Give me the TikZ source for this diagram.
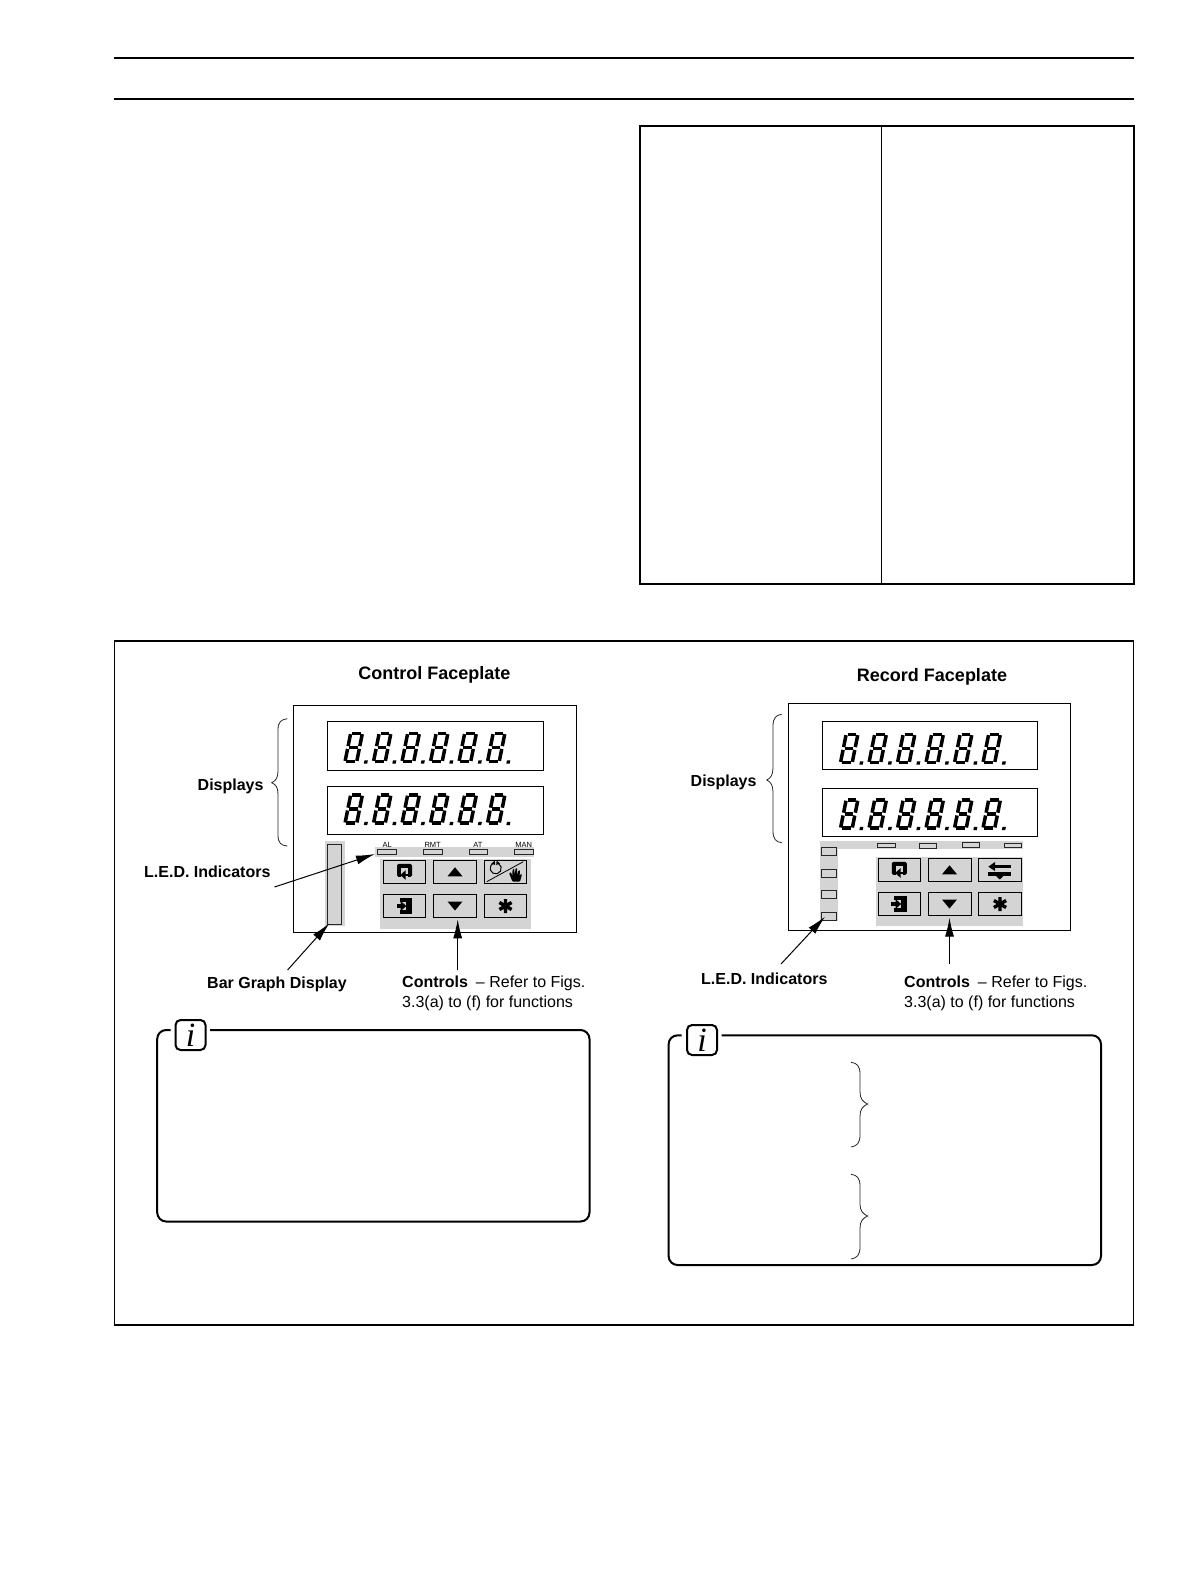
\documentclass[tikz,border=0pt]{standalone}
\usepackage{fontspec}
\setmainfont{Liberation Sans}
\newfontfamily\ifont{Liberation Serif}
\usetikzlibrary{arrows.meta}
\definecolor{panel}{gray}{0.83}
\tikzset{
  heavy/.style={draw=black,line width=1.7pt},
  frame/.style={draw=black,line width=1.5pt},
  thinbox/.style={draw=black,line width=1pt},
  greyarea/.style={fill=panel,draw=none},
  ledbox/.style={draw=black!85,fill=panel,line width=.9pt},
  keybox/.style={draw=black,fill=panel,line width=1pt},
  callout/.style={draw=black,line width=1pt,-{Latex[length=19pt,width=9pt]}},
  brace/.style={draw=black!85,line width=.8pt},
  boldlabel/.style={font=\fontsize{16}{19}\selectfont\bfseries,inner sep=0pt,anchor=west},
  titlelabel/.style={font=\fontsize{18}{21}\selectfont\bfseries,inner sep=0pt},
  textlabel/.style={font=\fontsize{16}{19}\selectfont,inner sep=0pt,anchor=west},
  tinylabel/.style={font=\fontsize{7.5}{8}\selectfont,inner sep=0pt},
  seg/.style={draw=black,line width=3.5pt,line cap=butt},
  infobox/.style={draw=black,line width=2pt,rounded corners=9pt},
  infoi/.style={draw=black,line width=2pt,rounded corners=5pt,minimum width=30pt,minimum height=30pt,inner sep=0pt,font=\ifont\itshape\fontsize{34}{34}\selectfont},
}
\newcommand{\sevenseg}[2]{%
  \begin{scope}[shift={(#1,#2)},xslant=0.2]
    \draw[seg] (3.2,1.8)--(12,1.8);
    \draw[seg] (3.4,15.8)--(11.8,15.8);
    \draw[seg] (3.2,29.8)--(12,29.8);
    \draw[seg] (1.8,2.4)--(1.8,14.4);
    \draw[seg] (1.8,17.2)--(1.8,29.2);
    \draw[seg] (13.5,2.4)--(13.5,14.4);
    \draw[seg] (13.5,17.2)--(13.5,29.2);
    \fill[black] (21,28.6) rectangle (24.4,31.8);
  \end{scope}}
\newcommand{\digitrow}[2]{\foreach \k in {0,...,5}{\sevenseg{#1+28.5*\k}{#2}}}
\newcommand{\iconpage}[2]{%
  \begin{scope}[shift={(#1,#2)}]
    \fill[black,rounded corners=1.5pt] (-7.5,-8) rectangle (7.5,5);
    \fill[panel] (-3.2,-3.5) rectangle (3.2,5.5);
    \fill[black] (-1,1.8) rectangle (4.5,4.6);
    \fill[black] (1.2,-1.6)--(1.2,8)--(-4.2,3.2)--cycle;
  \end{scope}}
\newcommand{\iconexit}[2]{%
  \begin{scope}[shift={(#1,#2)}]
    \fill[black] (-5,-7.7) rectangle (7.7,7.7);
    \fill[panel] (-5.5,-4) rectangle (1.8,4);
    \fill[black] (-8,-1.6) rectangle (-3,1.6);
    \fill[black] (-3.8,-5) -- (1.8,0) -- (-3.8,5) -- cycle;
  \end{scope}}
\newcommand{\iconup}[2]{\fill[black] (#1-7.5,#2+4.5) -- (#1+7.5,#2+4.5) -- (#1,#2-4.5) -- cycle;}
\newcommand{\icondown}[2]{\fill[black] (#1-7.5,#2-4.5) -- (#1+7.5,#2-4.5) -- (#1,#2+4.5) -- cycle;}
\newcommand{\iconstar}[2]{%
  \begin{scope}[shift={(#1,#2)}]
    \draw[black,line width=3.4pt] (0,-7)--(0,7) (-6.1,-3.5)--(6.1,3.5) (-6.1,3.5)--(6.1,-3.5);
  \end{scope}}
\begin{document}
\begin{tikzpicture}[x=1pt,y=-1pt]
\useasboundingbox (0,0) rectangle (1190,1588);
\fill[white] (0,0) rectangle (1190,1588);

% page rules
\draw[heavy] (114,57.7)--(1134,57.7);
\draw[heavy] (114,99)--(1134,99);

% table
\draw[heavy] (640,126) rectangle (1134,584);
\draw[black,line width=1pt] (881,126)--(881,584);

% outer frame
\draw[heavy] (114.4,641) rectangle (1133.5,1325);

% titles
\node[titlelabel] (t1) at (434.5,675.3) {Control Faceplate};
\node[titlelabel] (t2) at (932,677.3) {Record Faceplate};

% ---------- control faceplate
\draw[frame] (293.3,705.3) rectangle (576.3,932.3);
\draw[thinbox] (327.3,721.3) rectangle (543.7,770.3);
\draw[thinbox] (327.3,786.3) rectangle (543.7,834.3);
\digitrow{349.2}{731.7}
\digitrow{349.2}{793.3}

\fill[greyarea] (325,840.5) rectangle (345,925.7);
\draw[ledbox] (327.3,844.3) rectangle (341.7,924);

\fill[greyarea] (375.3,846.7) rectangle (534,856.7);
\foreach \a/\b in {377.7/396.7,423.3/442.7,469.3/487.7,514.3/533.7}
  \draw[ledbox] (\a,849.3) rectangle (\b,854.7);
\node[tinylabel] (l1) at (387.3,845) {AL};
\node[tinylabel] (l2) at (432.7,845) {RMT};
\node[tinylabel] (l3) at (478,845) {AT};
\node[tinylabel] (l4) at (523.7,845) {MAN};

\fill[greyarea] (380,859) rectangle (530.7,928.7);
\foreach \a/\b in {383.3/425.7,433.3/476.7,484.3/526.7}
  \foreach \c/\d in {860.3/883.3,894.3/917.7}
    \draw[keybox] (\a,\c) rectangle (\b,\d);
\iconpage{404.5}{871.8}
\iconup{455}{871.8}
\iconexit{404.5}{906}
\icondown{455}{906}
\iconstar{505.5}{906}
% auto / manual key
\draw[black,line width=.8pt] (486.7,881.7)--(523.3,861.7);
\draw[black,line width=1pt] (498.5,863.45) arc[start angle=-60,end angle=240,radius=5.6];
\fill[black] (491.3,863.6)--(494.8,860.6)--(495.2,865)--cycle;
\fill[black] (500.1,863.6)--(496.6,860.6)--(496.2,865)--cycle;
\fill[black,rounded corners=1pt] (509,873)--(511,872)--(512.3,876)--(512.6,869)--(514.2,868.6)--(514.8,875)--(515.6,868)--(517.2,868.2)--(517.2,875)--(518.6,870)--(520,870.4)--(519.6,876)--(521,873.5)--(522,874.4)--(520,881.7)--(512.5,881.7)--cycle;

% ---------- record faceplate
\draw[frame] (788.3,703.3) rectangle (1070.7,930.3);
\draw[thinbox] (822.3,721.3) rectangle (1037.7,769.3);
\draw[thinbox] (822.3,788.3) rectangle (1037.7,836.3);
\digitrow{844.7}{732.7}
\digitrow{844.7}{798.3}

\fill[greyarea] (820,841.3) rectangle (1022.7,848.7);
\fill[greyarea] (820,841.3) rectangle (838,921.3);
\foreach \c/\d in {847.3/855.3,869.3/877.3,890.7/898.7,912.3/920.7}
  \draw[ledbox] (821.3,\c) rectangle (836.7,\d);
\draw[ledbox] (877.3,843) rectangle (895.7,847.7);
\draw[ledbox] (919,843.3) rectangle (936.7,848.7);
\draw[ledbox] (962.3,842.3) rectangle (979.7,847.7);
\draw[ledbox] (1004.3,843) rectangle (1021.7,847.7);

\fill[greyarea] (876,857.3) rectangle (1022.7,925.7);
\foreach \a/\b in {878/920.7,928/971,978.3/1021.7}
  \foreach \c/\d in {858/881.7,892.3/915.7}
    \draw[keybox] (\a,\c) rectangle (\b,\d);
\iconpage{899.3}{869.8}
\iconup{949.5}{869.8}
\iconexit{899.3}{904}
\icondown{949.5}{904}
\iconstar{1000}{904}
% swap key
\fill[black] (988.3,866.7)--(995,862)--(995,871)--cycle;
\fill[black] (994,865.4) rectangle (1010.5,868);
\fill[black] (988.3,871.7) rectangle (1010.5,875.5);
\fill[black] (995.5,875.5)--(1004,875.5)--(999.8,879.5)--cycle;

% ---------- braces
\draw[brace] (287.3,718.7) .. controls (281,719.5) and (278,722) .. (278,730) -- (278,771) .. controls (278,778) and (275.5,781) .. (271.7,782.7) .. controls (275.5,784.4) and (278,787) .. (278,794) -- (278,835) .. controls (278,843) and (281,845.5) .. (287.3,846);
\draw[brace] (781.7,714.3) .. controls (776,715) and (773,718) .. (773,726) -- (773,768) .. controls (773,775) and (770.5,778.3) .. (766.7,780) .. controls (770.5,781.7) and (773,785) .. (773,792) -- (773,831) .. controls (773,839) and (776,842) .. (781.7,842.7);
\draw[brace] (851,1062.3) .. controls (857,1063) and (860,1066) .. (860,1074) -- (860,1092) .. controls (860,1099) and (863,1102) .. (867.7,1104) .. controls (863,1106) and (860,1109) .. (860,1116) -- (860,1135) .. controls (860,1143) and (857,1146) .. (851,1147);
\draw[brace] (851,1174.3) .. controls (857,1175) and (860,1178) .. (860,1186) -- (860,1204) .. controls (860,1211) and (863,1214) .. (867.7,1216) .. controls (863,1218) and (860,1221) .. (860,1228) -- (860,1247) .. controls (860,1255) and (857,1258) .. (851,1259);

% ---------- labels
\node[boldlabel] (d1) at (197.5,786.5) {Displays};
\node[boldlabel] (d2) at (690.5,782.5) {Displays};
\node[boldlabel] (led1) at (144,871.3) {L.E.D. Indicators};
\node[boldlabel] (led2) at (701,978.6) {L.E.D. Indicators};
\node[boldlabel] (bar) at (207,984.6) {Bar Graph Display};
\node[textlabel] (c1) at (402,983) {\textbf{Controls}\hspace{8pt}– Refer to Figs.};
\node[textlabel] (c1b) at (402,1003.4) {3.3(a) to (f) for functions};
\node[textlabel] (c2) at (904,983) {\textbf{Controls}\hspace{8pt}– Refer to Figs.};
\node[textlabel] (c2b) at (904,1003.4) {3.3(a) to (f) for functions};

% ---------- connectors
\coordinate (ledtip1) at (375,854);
\coordinate (ledstart1) at (274.5,887);
\coordinate (bartip) at (329.3,923.3);
\coordinate (barstart) at (287.6,970);
\coordinate (ctip1) at (457.7,919.3);
\coordinate (cstart1) at (457.7,970);
\coordinate (ledtip2) at (825,916.7);
\coordinate (ledstart2) at (781,964);
\coordinate (ctip2) at (949.5,917.7);
\coordinate (cstart2) at (949.5,964);
\draw[callout] (ledstart1)--(ledtip1);
\draw[callout] (barstart)--(bartip);
\draw[callout] (cstart1)--(ctip1);
\draw[callout] (ledstart2)--(ledtip2);
\draw[callout] (cstart2)--(ctip2);

% ---------- info boxes
\draw[infobox] (170.7,1030) -- (157.2,1030) -- (157.2,1221.5) -- (589.5,1221.5) -- (589.5,1030) -- (210,1030);
\node[infoi] (i1) at (190.5,1035) {i};
\draw[infobox] (681.7,1035.3) -- (668.6,1035.3) -- (668.6,1265) -- (1101,1265) -- (1101,1035.3) -- (721.7,1035.3);
\node[infoi] (i2) at (702,1040) {i};
\end{tikzpicture}
\end{document}
